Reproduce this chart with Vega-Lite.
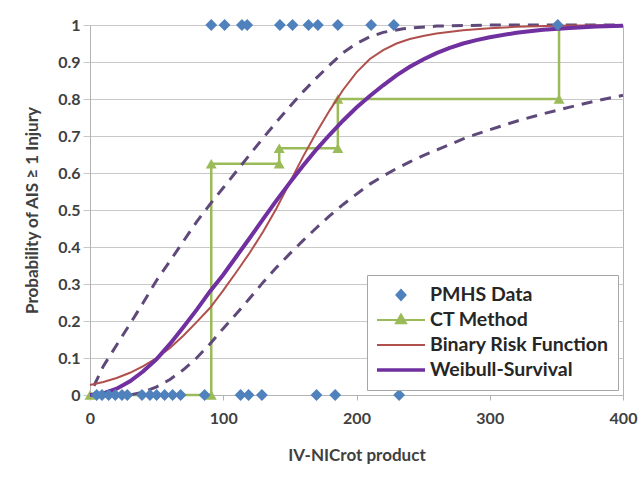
{
  "$schema": "https://vega.github.io/schema/vega-lite/v6.json",
  "width": 533,
  "height": 370,
  "autosize": "none",
  "padding": {"left": 90, "top": 25, "right": 16, "bottom": 84},
  "background": "white",
  "config": {
    "font": "Lato",
    "view": {"stroke": "#b3b3b3", "strokeWidth": 1}
  },
  "datasets": {
    "pmhs": [
      {"series": "PMHS Data", "x": 91, "p": 1}, {"series": "PMHS Data", "x": 101, "p": 1}, {"series": "PMHS Data", "x": 114, "p": 1},
      {"series": "PMHS Data", "x": 118, "p": 1}, {"series": "PMHS Data", "x": 142.5, "p": 1}, {"series": "PMHS Data", "x": 152, "p": 1},
      {"series": "PMHS Data", "x": 164, "p": 1}, {"series": "PMHS Data", "x": 171, "p": 1}, {"series": "PMHS Data", "x": 186, "p": 1},
      {"series": "PMHS Data", "x": 211, "p": 1}, {"series": "PMHS Data", "x": 228, "p": 1}, {"series": "PMHS Data", "x": 351, "p": 1},
      {"series": "PMHS Data", "x": 5, "p": 0}, {"series": "PMHS Data", "x": 9, "p": 0}, {"series": "PMHS Data", "x": 14, "p": 0},
      {"series": "PMHS Data", "x": 19, "p": 0}, {"series": "PMHS Data", "x": 24, "p": 0}, {"series": "PMHS Data", "x": 28, "p": 0},
      {"series": "PMHS Data", "x": 39, "p": 0}, {"series": "PMHS Data", "x": 45, "p": 0}, {"series": "PMHS Data", "x": 50, "p": 0},
      {"series": "PMHS Data", "x": 56, "p": 0}, {"series": "PMHS Data", "x": 62, "p": 0}, {"series": "PMHS Data", "x": 68, "p": 0},
      {"series": "PMHS Data", "x": 86, "p": 0}, {"series": "PMHS Data", "x": 113, "p": 0}, {"series": "PMHS Data", "x": 119, "p": 0},
      {"series": "PMHS Data", "x": 129, "p": 0}, {"series": "PMHS Data", "x": 170, "p": 0}, {"series": "PMHS Data", "x": 184, "p": 0},
      {"series": "PMHS Data", "x": 232, "p": 0}
    ],
    "ct": [
      {"series": "CT Method", "ord": 1, "x": 0, "p": 0}, {"series": "CT Method", "ord": 2, "x": 91, "p": 0},
      {"series": "CT Method", "ord": 3, "x": 91, "p": 0.625}, {"series": "CT Method", "ord": 4, "x": 142, "p": 0.625},
      {"series": "CT Method", "ord": 5, "x": 142, "p": 0.667}, {"series": "CT Method", "ord": 6, "x": 186, "p": 0.667},
      {"series": "CT Method", "ord": 7, "x": 186, "p": 0.8}, {"series": "CT Method", "ord": 8, "x": 352, "p": 0.8},
      {"series": "CT Method", "ord": 9, "x": 352, "p": 1}
    ],
    "binary": [
      {"series": "Binary Risk Function", "x": 0, "p": 0.027}, {"series": "Binary Risk Function", "x": 10, "p": 0.035},
      {"series": "Binary Risk Function", "x": 20, "p": 0.046}, {"series": "Binary Risk Function", "x": 30, "p": 0.06},
      {"series": "Binary Risk Function", "x": 40, "p": 0.078}, {"series": "Binary Risk Function", "x": 50, "p": 0.1},
      {"series": "Binary Risk Function", "x": 60, "p": 0.127}, {"series": "Binary Risk Function", "x": 70, "p": 0.16},
      {"series": "Binary Risk Function", "x": 80, "p": 0.197}, {"series": "Binary Risk Function", "x": 90, "p": 0.235},
      {"series": "Binary Risk Function", "x": 100, "p": 0.283}, {"series": "Binary Risk Function", "x": 110, "p": 0.333},
      {"series": "Binary Risk Function", "x": 120, "p": 0.385}, {"series": "Binary Risk Function", "x": 130, "p": 0.442},
      {"series": "Binary Risk Function", "x": 140, "p": 0.505}, {"series": "Binary Risk Function", "x": 150, "p": 0.575},
      {"series": "Binary Risk Function", "x": 160, "p": 0.645}, {"series": "Binary Risk Function", "x": 170, "p": 0.71},
      {"series": "Binary Risk Function", "x": 180, "p": 0.77}, {"series": "Binary Risk Function", "x": 190, "p": 0.825},
      {"series": "Binary Risk Function", "x": 200, "p": 0.872}, {"series": "Binary Risk Function", "x": 210, "p": 0.908},
      {"series": "Binary Risk Function", "x": 220, "p": 0.932}, {"series": "Binary Risk Function", "x": 230, "p": 0.95},
      {"series": "Binary Risk Function", "x": 240, "p": 0.962}, {"series": "Binary Risk Function", "x": 250, "p": 0.97},
      {"series": "Binary Risk Function", "x": 260, "p": 0.977}, {"series": "Binary Risk Function", "x": 280, "p": 0.986},
      {"series": "Binary Risk Function", "x": 300, "p": 0.991}, {"series": "Binary Risk Function", "x": 320, "p": 0.995},
      {"series": "Binary Risk Function", "x": 350, "p": 0.998}, {"series": "Binary Risk Function", "x": 400, "p": 1.0}
    ],
    "weibull": [
      {"series": "Weibull-Survival", "x": 0, "p": 0}, {"series": "Weibull-Survival", "x": 10, "p": 0.0045},
      {"series": "Weibull-Survival", "x": 20, "p": 0.017}, {"series": "Weibull-Survival", "x": 30, "p": 0.037},
      {"series": "Weibull-Survival", "x": 40, "p": 0.064}, {"series": "Weibull-Survival", "x": 50, "p": 0.097},
      {"series": "Weibull-Survival", "x": 60, "p": 0.138}, {"series": "Weibull-Survival", "x": 70, "p": 0.183},
      {"series": "Weibull-Survival", "x": 80, "p": 0.23}, {"series": "Weibull-Survival", "x": 90, "p": 0.28},
      {"series": "Weibull-Survival", "x": 100, "p": 0.325}, {"series": "Weibull-Survival", "x": 110, "p": 0.375},
      {"series": "Weibull-Survival", "x": 120, "p": 0.425}, {"series": "Weibull-Survival", "x": 130, "p": 0.476},
      {"series": "Weibull-Survival", "x": 140, "p": 0.526}, {"series": "Weibull-Survival", "x": 150, "p": 0.574},
      {"series": "Weibull-Survival", "x": 160, "p": 0.62}, {"series": "Weibull-Survival", "x": 170, "p": 0.664},
      {"series": "Weibull-Survival", "x": 180, "p": 0.704}, {"series": "Weibull-Survival", "x": 190, "p": 0.742},
      {"series": "Weibull-Survival", "x": 200, "p": 0.777}, {"series": "Weibull-Survival", "x": 210, "p": 0.808},
      {"series": "Weibull-Survival", "x": 220, "p": 0.837}, {"series": "Weibull-Survival", "x": 230, "p": 0.864},
      {"series": "Weibull-Survival", "x": 240, "p": 0.887}, {"series": "Weibull-Survival", "x": 250, "p": 0.907},
      {"series": "Weibull-Survival", "x": 260, "p": 0.924}, {"series": "Weibull-Survival", "x": 270, "p": 0.938},
      {"series": "Weibull-Survival", "x": 280, "p": 0.95}, {"series": "Weibull-Survival", "x": 290, "p": 0.959},
      {"series": "Weibull-Survival", "x": 300, "p": 0.967}, {"series": "Weibull-Survival", "x": 320, "p": 0.979},
      {"series": "Weibull-Survival", "x": 340, "p": 0.987}, {"series": "Weibull-Survival", "x": 360, "p": 0.992},
      {"series": "Weibull-Survival", "x": 380, "p": 0.996}, {"series": "Weibull-Survival", "x": 400, "p": 0.998}
    ],
    "upper": [
      {"x": 3, "p": 0.025}, {"x": 10, "p": 0.078}, {"x": 20, "p": 0.135}, {"x": 30, "p": 0.192},
      {"x": 40, "p": 0.25}, {"x": 50, "p": 0.31}, {"x": 60, "p": 0.362}, {"x": 70, "p": 0.415},
      {"x": 80, "p": 0.468}, {"x": 90, "p": 0.515}, {"x": 100, "p": 0.56}, {"x": 110, "p": 0.605},
      {"x": 120, "p": 0.65}, {"x": 130, "p": 0.695}, {"x": 140, "p": 0.738}, {"x": 150, "p": 0.78},
      {"x": 160, "p": 0.82}, {"x": 170, "p": 0.857}, {"x": 180, "p": 0.892}, {"x": 190, "p": 0.925},
      {"x": 200, "p": 0.95}, {"x": 210, "p": 0.968}, {"x": 220, "p": 0.98}, {"x": 235, "p": 0.99},
      {"x": 260, "p": 0.997}, {"x": 300, "p": 1}, {"x": 400, "p": 1}
    ],
    "lower": [
      {"x": 30, "p": 0.0}, {"x": 40, "p": 0.008}, {"x": 50, "p": 0.022}, {"x": 60, "p": 0.042},
      {"x": 70, "p": 0.068}, {"x": 80, "p": 0.1}, {"x": 90, "p": 0.138}, {"x": 100, "p": 0.18},
      {"x": 110, "p": 0.22}, {"x": 120, "p": 0.262}, {"x": 130, "p": 0.305}, {"x": 140, "p": 0.345},
      {"x": 150, "p": 0.382}, {"x": 160, "p": 0.418}, {"x": 170, "p": 0.452}, {"x": 180, "p": 0.485},
      {"x": 190, "p": 0.515}, {"x": 200, "p": 0.543}, {"x": 210, "p": 0.57}, {"x": 220, "p": 0.592},
      {"x": 230, "p": 0.612}, {"x": 240, "p": 0.63}, {"x": 250, "p": 0.647}, {"x": 260, "p": 0.662},
      {"x": 270, "p": 0.677}, {"x": 280, "p": 0.692}, {"x": 290, "p": 0.705}, {"x": 300, "p": 0.717},
      {"x": 320, "p": 0.74}, {"x": 340, "p": 0.76}, {"x": 360, "p": 0.778}, {"x": 380, "p": 0.795},
      {"x": 400, "p": 0.81}
    ]
  },
  "encoding": {
    "x": {
      "field": "x", "type": "quantitative",
      "scale": {"domain": [0, 400], "nice": false},
      "axis": {
        "values": [0, 100, 200, 300, 400], "grid": false, "labelFlush": false, "labelOverlap": false,
        "title": "IV-NICrot product",
        "titleFont": "Lato", "titleFontSize": 17, "titleFontWeight": "bold", "titleColor": "#404040", "titlePadding": 21,
        "labelFont": "Lato", "labelFontSize": 16, "labelFontWeight": "bold", "labelColor": "#404040", "labelPadding": 10,
        "tickSize": 5, "tickColor": "#b3b3b3", "domainColor": "#b3b3b3"
      }
    },
    "y": {
      "field": "p", "type": "quantitative",
      "scale": {"domain": [0, 1], "nice": false},
      "axis": {
        "values": [0, 0.1, 0.2, 0.3, 0.4, 0.5, 0.6, 0.7, 0.8, 0.9, 1], "format": ".1~f", "grid": true,
        "labelFlush": false, "labelOverlap": false,
        "gridColor": "#c8c8c8", "gridWidth": 1,
        "title": "Probability of AIS ≥ 1 Injury",
        "titleFont": "Lato", "titleFontSize": 17, "titleFontWeight": "bold", "titleColor": "#404040", "titlePadding": 16,
        "labelFont": "Lato", "labelFontSize": 16, "labelFontWeight": "bold", "labelColor": "#404040", "labelPadding": 3,
        "tickSize": 7, "tickColor": "#c8c8c8", "domainColor": "#b3b3b3"
      }
    }
  },
  "layer": [
    {
      "data": {"name": "ct"},
      "mark": {"type": "line", "strokeWidth": 2.5, "interpolate": "linear"},
      "encoding": {
        "order": {"field": "ord", "type": "quantitative"},
        "color": {
          "field": "series", "type": "nominal",
          "scale": {
            "domain": ["PMHS Data", "CT Method", "Binary Risk Function", "Weibull-Survival"],
            "range": ["#4f81bd", "#9bbb59", "#b0504d", "#7030a0"]
          },
          "legend": {
            "title": null, "orient": "bottom-right", "offset": 5,
            "fillColor": "white", "strokeColor": "#a6a6a6", "padding": 9,
            "labelFont": "Lato", "labelFontSize": 19.5, "labelFontWeight": "bold", "labelColor": "#262626",
            "labelLimit": 400, "symbolOffset": 0, "symbolStrokeWidth": 2, "clipHeight": 22,
            "labelOffset": 4, "symbolSize": 2304, "rowPadding": 3,
            "encode": {
              "symbols": {
                "update": {
                  "shape": {"signal": "datum.value === 'PMHS Data' ? 'M0,-0.21L0.19,0L0,0.21L-0.19,0Z' : (datum.value === 'CT Method' ? 'M-1,0H1M-0.21,0.14L0.21,0.14L0,-0.23Z' : (datum.value === 'Weibull-Survival' ? 'M-1,-0.035H1M-1,0.035H1' : 'M-1,0H1'))"},
                  "fill": {"scale": "color", "field": "value"},
                  "stroke": {"scale": "color", "field": "value"},
                  "opacity": {"value": 1},
                  "fillOpacity": {"value": 1},
                  "strokeOpacity": {"value": 1}
                }
              }
            }
          }
        }
      }
    },
    {
      "data": {"name": "ct"},
      "mark": {"type": "point", "shape": "triangle-up", "filled": true, "size": 121, "opacity": 1},
      "encoding": {
        "color": {"field": "series", "type": "nominal"}
      }
    },
    {
      "data": {"name": "upper"},
      "mark": {"type": "line", "color": "#5f497a", "strokeWidth": 3, "strokeDash": [11, 8]},
      "encoding": {}
    },
    {
      "data": {"name": "lower"},
      "mark": {"type": "line", "color": "#5f497a", "strokeWidth": 3, "strokeDash": [11, 8]},
      "encoding": {}
    },
    {
      "data": {"name": "binary"},
      "mark": {"type": "line", "strokeWidth": 2},
      "encoding": {"color": {"field": "series", "type": "nominal"}}
    },
    {
      "data": {"name": "weibull"},
      "mark": {"type": "line", "strokeWidth": 4},
      "encoding": {"color": {"field": "series", "type": "nominal"}}
    },
    {
      "data": {"name": "pmhs"},
      "mark": {"type": "point", "shape": "diamond", "filled": true, "size": 140, "opacity": 1},
      "encoding": {"color": {"field": "series", "type": "nominal"}}
    }
  ]
}
